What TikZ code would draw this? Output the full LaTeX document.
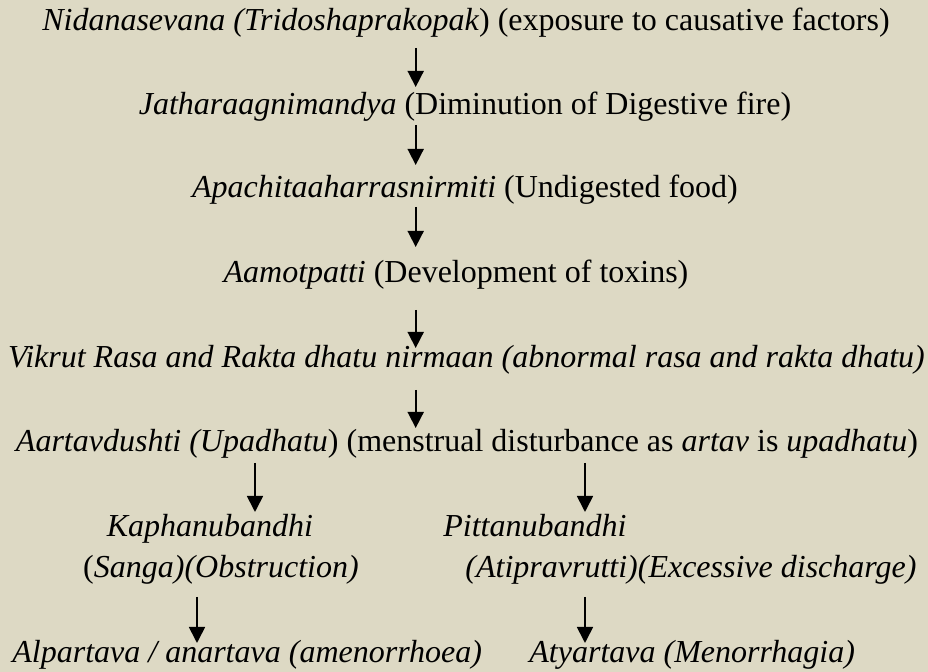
\documentclass[tikz,border=0pt]{standalone}
\usepackage{fontspec}
\setmainfont{Liberation Serif}
\usepackage{xcolor}
\usetikzlibrary{arrows.meta,calc}
\definecolor{tanbg}{RGB}{221,217,196}

\begin{document}
\begin{tikzpicture}[x=0.5pt, y=-0.5pt,
    every node/.style={inner sep=0pt, font=\fontsize{16}{19}\selectfont},
    stage/.style={anchor=base},
    branch/.style={anchor=base west},
    flow/.style={-{Triangle[width=8pt,length=8pt]}, line width=0.85pt}]
    % page background
    \fill[tanbg] (0,0) rectangle (928,672);
    \useasboundingbox (0,0) rectangle (928,672);
    % main chain
    \node[stage] (nidana)  at (466,31)  {\textit{Nidanasevana (Tridoshaprakopak}) (exposure to causative factors)};
    \node[stage] (jathar)  at (465,115) {\textit{Jatharaagnimandya} (Diminution of Digestive fire)};
    \node[stage] (apachit) at (465,198) {\textit{Apachitaaharrasnirmiti} (Undigested food)};
    \node[stage] (aama)    at (456,283) {\textit{Aamotpatti} (Development of toxins)};
    \node[stage] (vikrut)  at (466.5,368) {\textit{Vikrut Rasa and Rakta dhatu nirmaan (abnormal rasa and rakta dhatu)}};
    \node[stage] (aartav)  at (467,452) {\textit{Aartavdushti (Upadhatu}) (menstrual disturbance as \textit{artav} is \textit{upadhatu})};
    % two branches
    \node[stage]  (kapha)    at (210,537) {\textit{Kaphanubandhi}};
    \node[stage]  (kaphasub) at (221,578) {(\textit{Sanga)(Obstruction)}};
    \node[branch] (pitta)    at (443,537) {\textit{Pittanubandhi}};
    \node[branch] (pittasub) at (465,578) {\textit{(Atipravrutti)(Excessive discharge)}};
    \node[branch] (alpa)     at (12,663)  {\textit{Alpartava / anartava (amenorrhoea)}};
    \node[branch] (atya)     at (529,663) {\textit{Atyartava (Menorrhagia)}};
    % arrow columns
    \coordinate (mainx) at (415.7,0);
    \coordinate (leftx) at (255,0);
    \coordinate (lowx)  at (197,0);
    \coordinate (rightx) at (585,0);
    \foreach \from/\to/\ax/\s/\e in {nidana/jathar/mainx/17/28, jathar/apachit/mainx/10/33,
        apachit/aama/mainx/9/36, aama/vikrut/mainx/27/20, vikrut/aartav/mainx/22/24,
        aartav/kapha/leftx/11/25, aartav/pitta/rightx/11/25,
        kaphasub/alpa/lowx/19/20, pittasub/atya/rightx/19/20}
        \draw[flow] ($(\from.base -| \ax)+(0,\s)$) -- ($(\to.base -| \ax)-(0,\e)$);
\end{tikzpicture}
\end{document}
